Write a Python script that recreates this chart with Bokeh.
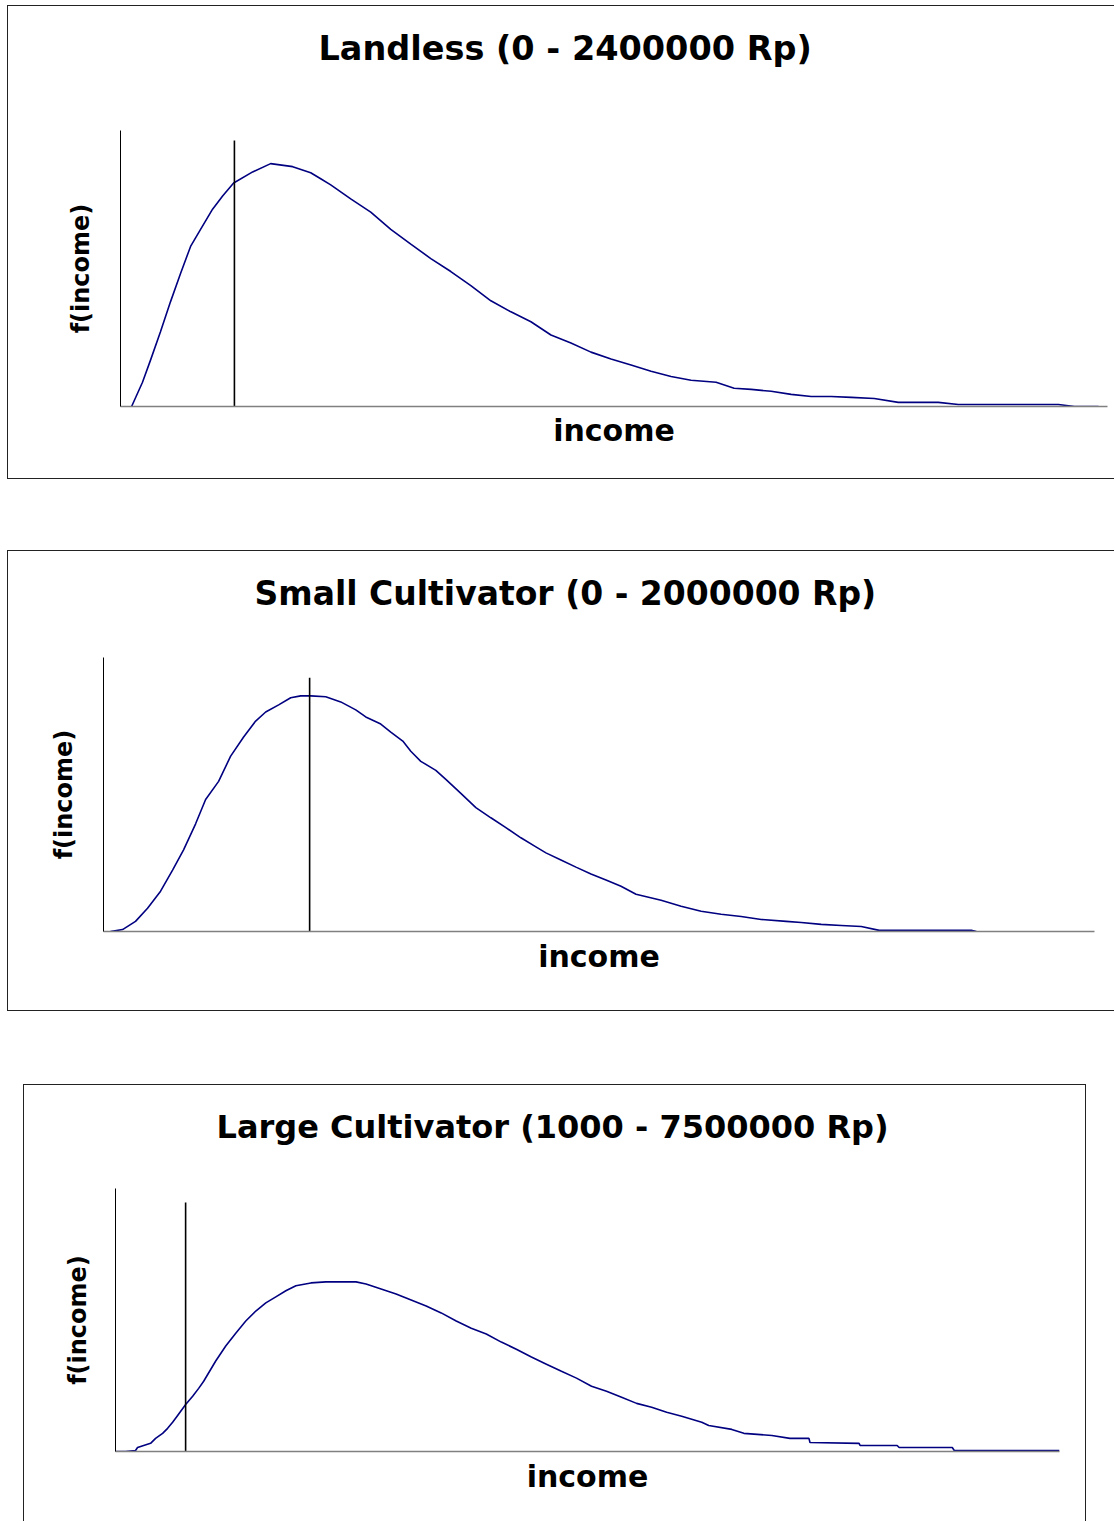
from bokeh.plotting import figure
from bokeh.models import Title, LinearAxis, FixedTicker, Spacer, Range1d
from bokeh.layouts import column, row
from bokeh.embed import file_html
from bokeh.resources import INLINE

# ---------------- data ----------------
# Landless (0 - 2400000 Rp)
land_title = "Landless (0 - 2400000 Rp)"
land_income = [27000, 53500, 73000, 97000, 121700, 146000, 170400, 194700, 223900, 248300,
               275100, 321300, 365100, 418700, 462500, 486800, 511200, 559800, 608500, 657200,
               705900, 754600, 803200, 851900, 900600, 949300, 998000, 1046700, 1095300, 1144000,
               1192700, 1241400, 1290100, 1338700, 1387400, 1448300, 1492100, 1533500, 1582200,
               1630800, 1679500, 1728200, 1776900, 1832900, 1891300, 1988600, 2037300, 2280700,
               2319700, 2378100]
land_density = [0.0, 0.088, 0.168, 0.270, 0.380, 0.482, 0.580, 0.642, 0.715, 0.763,
                0.810, 0.850, 0.880, 0.869, 0.847, 0.825, 0.803, 0.752, 0.704, 0.642,
                0.588, 0.536, 0.489, 0.438, 0.383, 0.343, 0.307, 0.259, 0.230, 0.197,
                0.172, 0.150, 0.128, 0.109, 0.095, 0.088, 0.066, 0.062, 0.055,
                0.044, 0.036, 0.036, 0.033, 0.029, 0.015, 0.015, 0.007, 0.007,
                0.0, 0.0]
land_marker_income = 277000
land_marker_top = 0.964

# Small Cultivator (0 - 2000000 Rp)
small_title = "Small Cultivator (0 - 2000000 Rp)"
small_income = [14000, 38400, 64600, 88900, 115200, 139400, 161600, 185900, 206100, 232300,
                256600, 282800, 307100, 327300, 353500, 377800, 398000, 418200, 448500, 478800,
                509100, 529300, 559600, 579800, 604000, 620200, 640400, 670700, 690900, 721200,
                751500, 781800, 812100, 842400, 872700, 892900, 923200, 953500, 983800, 1014100,
                1044400, 1074700, 1125300, 1165700, 1206100, 1246500, 1286900, 1327300, 1377800,
                1408100, 1448500, 1488900, 1529300, 1565700, 1751500, 1761600]
small_density = [0.0, 0.007, 0.037, 0.085, 0.147, 0.224, 0.298, 0.393, 0.482, 0.548,
                 0.640, 0.710, 0.768, 0.801, 0.827, 0.853, 0.860, 0.860, 0.857, 0.838,
                 0.809, 0.783, 0.757, 0.728, 0.695, 0.658, 0.621, 0.588, 0.555, 0.504,
                 0.452, 0.415, 0.379, 0.342, 0.309, 0.287, 0.261, 0.235, 0.210, 0.188,
                 0.165, 0.136, 0.114, 0.092, 0.074, 0.063, 0.055, 0.044, 0.037,
                 0.033, 0.026, 0.022, 0.018, 0.004, 0.004, 0.0]
small_marker_income = 416000
small_marker_top = 0.926

# Large Cultivator (1000 - 7500000 Rp)
large_title = "Large Cultivator (1000 - 7500000 Rp)"
large_income = [1000, 80600, 160200, 176100, 279600, 319400, 375200, 415000, 454800, 494600,
                558200, 614000, 661700, 701500, 797100, 876700, 956300, 1035900, 1115500, 1195100,
                1274700, 1354300, 1433900, 1553300, 1672700, 1911600, 1991200, 2110600, 2230000,
                2349400, 2468800, 2588200, 2707600, 2827000, 2946500, 3065900, 3185300, 3304700,
                3424100, 3543500, 3662900, 3782300, 3901700, 4021200, 4140600, 4260000, 4379400,
                4498800, 4658000, 4713700, 4896800, 4992400, 5215300, 5358600, 5509800, 5517800,
                5907800, 5915800, 6210300, 6226300, 6648200, 6664100, 7500000]
large_density = [0.0, 0.0, 0.004, 0.015, 0.031, 0.050, 0.069, 0.088, 0.111, 0.137,
                 0.179, 0.210, 0.240, 0.267, 0.344, 0.401, 0.450, 0.496, 0.534, 0.565,
                 0.588, 0.611, 0.630, 0.641, 0.645, 0.645, 0.637, 0.618, 0.599,
                 0.576, 0.553, 0.527, 0.496, 0.469, 0.447, 0.416, 0.389, 0.359,
                 0.332, 0.305, 0.279, 0.248, 0.229, 0.206, 0.183, 0.168, 0.149,
                 0.134, 0.111, 0.099, 0.084, 0.069, 0.061, 0.050, 0.050, 0.034,
                 0.031, 0.023, 0.023, 0.015, 0.015, 0.004, 0.004]
large_marker_income = 558000
large_marker_top = 0.947

x_label = "income"
y_label = "f(income)"

FONT = "DejaVu Sans"
CURVE = "#000080"
BOX = "1px solid #222222"


def panel(title, xs, ys, mx, mtop, xr, width, height, mleft, mright, mtop_b, mbottom,
          ystand, xstand, borders, t_size, t_offset, t_gap):
    p = figure(width=width, height=height, output_backend="svg", toolbar_location=None,
               x_range=Range1d(*xr), y_range=Range1d(0, 1),
               min_border_left=mleft, min_border_right=mright,
               min_border_top=mtop_b, min_border_bottom=mbottom,
               background_fill_color="white", border_fill_color="white",
               styles=borders)
    p.outline_line_color = None
    p.grid.visible = False
    for ax in (p.xaxis[0], p.yaxis[0]):
        ax.ticker = FixedTicker(ticks=[])
        ax.major_tick_line_color = None
        ax.minor_tick_line_color = None
        ax.major_label_text_font_size = "0px"
        ax.axis_label_text_font = FONT
        ax.axis_label_text_font_style = "bold"
        ax.axis_label_text_color = "black"
    p.xaxis.axis_label = x_label
    p.xaxis.axis_label_text_font_size = "30px"
    p.xaxis.axis_label_standoff = xstand
    p.xaxis.axis_line_color = "#808080"
    p.xaxis.axis_line_width = 1.5
    p.yaxis.axis_label = y_label
    p.yaxis.axis_label_text_font_size = "24px"
    p.yaxis.axis_label_standoff = ystand
    p.yaxis.axis_line_color = "black"
    p.yaxis.axis_line_width = 1

    # blank axis above the frame (white tick on white, no label) that only opens
    # a gap between the frame and the title
    gap = LinearAxis(ticker=FixedTicker(ticks=[xr[1]]), axis_line_color=None,
                     major_tick_line_color="white", minor_tick_line_color=None,
                     major_tick_in=0, major_tick_out=t_gap, major_label_standoff=0,
                     major_label_overrides={xr[1]: ""},
                     major_label_text_font_size="0px")
    p.add_layout(gap, "above")
    p.add_layout(Title(text=title, align="left", offset=t_offset, vertical_align="bottom",
                       standoff=10, text_font=FONT, text_font_style="bold",
                       text_font_size=t_size, text_color="black"), "above")

    p.line(xs, ys, line_color=CURVE, line_width=1.6)
    p.segment(x0=[mx], y0=[0], x1=[mx], y1=[mtop], line_color="black", line_width=1.6)
    return p


p1 = panel(land_title, land_income, land_density, land_marker_income, land_marker_top,
           (0, 2400000), 1107, 474, 112, 8, 124, 74, 26, 6,
           {"border-top": BOX, "border-left": BOX, "border-bottom": BOX},
           "33.5px", 198, 58)

p2 = panel(small_title, small_income, small_density, small_marker_income, small_marker_top,
           (0, 2000000), 1107, 461, 95, 21, 106, 81, 26, 7,
           {"border-top": BOX, "border-left": BOX, "border-bottom": BOX},
           "33px", 151, 40)

p3 = panel(large_title, large_income, large_density, large_marker_income, large_marker_top,
           (1000, 7500000), 1063, 437, 91, 28, 103, 71, 24, 7,
           {"border-top": BOX, "border-left": BOX, "border-right": BOX},
           "32px", 101, 38)

layout = column(Spacer(height=5), row(Spacer(width=7), p1), Spacer(height=71),
                row(Spacer(width=7), p2), Spacer(height=73), row(Spacer(width=23), p3))

open("out.html", "w").write(file_html(layout, INLINE))
